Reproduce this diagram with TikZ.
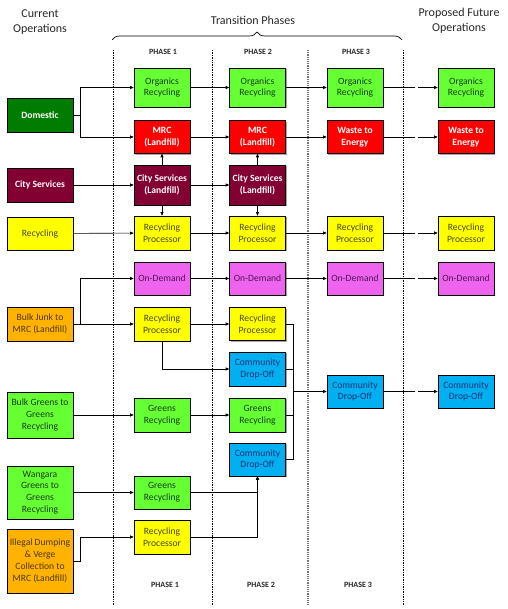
\documentclass[tikz,border=0pt]{standalone}
\usepackage{fontspec}
\setmainfont{Carlito}
\usetikzlibrary{arrows.meta,shadows,decorations.pathreplacing}
\definecolor{dgreen}{RGB}{0,125,0}
\definecolor{lgreen}{RGB}{102,255,51}
\definecolor{gtext}{RGB}{25,60,25}
\definecolor{maroon}{RGB}{130,0,50}
\definecolor{yfill}{RGB}{255,255,0}
\definecolor{ytext}{RGB}{70,70,0}
\definecolor{ofill}{RGB}{255,178,0}
\definecolor{otext}{RGB}{80,55,0}
\definecolor{mfill}{RGB}{238,100,238}
\definecolor{mtext}{RGB}{80,20,90}
\definecolor{bfill}{RGB}{0,176,240}
\definecolor{btext}{RGB}{25,50,120}
\definecolor{rfill}{RGB}{255,0,0}
\begin{document}
\begin{tikzpicture}[x=1pt,y=-1pt,
  box/.style={draw=black, line width=0.6pt, minimum width=56pt, inner sep=1pt, align=center,
    font=\fontsize{9.6}{11.8}\selectfont,
    drop shadow={shadow xshift=1.3pt, shadow yshift=-1.3pt, fill=black, opacity=0.35}},
  lbox/.style={box, minimum width=66pt},
  grn/.style={fill=lgreen, text=gtext},
  dgr/.style={fill=dgreen, text=white, font=\bfseries\fontsize{9.6}{11.8}\selectfont},
  red/.style={fill=rfill, text=white, font=\bfseries\fontsize{9.6}{11.8}\selectfont},
  mar/.style={fill=maroon, text=white, font=\bfseries\fontsize{9.6}{11.8}\selectfont},
  yel/.style={fill=yfill, text=ytext},
  ora/.style={fill=ofill, text=otext},
  mag/.style={fill=mfill, text=mtext},
  blu/.style={fill=bfill, text=btext},
  conn/.style={draw=black, line width=0.6pt},
  arr/.style={conn, -{Triangle[length=3.5pt,width=3pt]}},
  gapped/.style={dash pattern=on 32pt off 3pt on 300pt},
  phase/.style={font=\bfseries\fontsize{8}{9.5}\selectfont, text=black!85},
  head/.style={font=\fontsize{12}{15}\selectfont, align=center, text=black!85},
  vsep/.style={densely dotted, line width=0.7pt}
]
\useasboundingbox (0,0) rectangle (507,609);

% headers
\node[head] (hcur) at (40,22) {Current\\Operations};
\node[head] (htr) at (253,20) {Transition Phases};
\node[head] (hfut) at (459,21) {Proposed Future\\Operations};
\draw[line width=0.7pt, decorate, decoration={brace, amplitude=8pt}] (112,40) -- (402,40);

% separators
\draw[vsep] (113,50) -- (113,605);
\draw[vsep] (212,50) -- (212,605);
\draw[vsep, black!55, line width=1.2pt] (308,50) -- (308,605);
\draw[vsep] (403,50) -- (403,605);

% phase labels
\node[phase] (p1t) at (163,52) {PHASE 1};
\node[phase] (p2t) at (258,52) {PHASE 2};
\node[phase] (p3t) at (356,52) {PHASE 3};
\node[phase] (p1b) at (165,585) {PHASE 1};
\node[phase] (p2b) at (261,585) {PHASE 2};
\node[phase] (p3b) at (358,585) {PHASE 3};

% current operations
\node[lbox, dgr, minimum height=34pt] (dom) at (40,115) {Domestic};
\node[lbox, mar, minimum height=34pt] (cs0) at (40,185) {City Services};
\node[lbox, yel, minimum height=33pt] (rec0) at (40,233.5) {Recycling};
\node[lbox, ora, minimum height=34pt] (bj0) at (40,324) {Bulk Junk to\\MRC (Landfill)};
\node[lbox, grn, minimum height=46pt] (bg0) at (40,415) {Bulk Greens to\\Greens\\Recycling};
\node[lbox, grn, minimum height=53pt] (wg0) at (40,492.5) {Wangara\\Greens to\\Greens\\Recycling};
\node[lbox, ora, minimum height=64pt] (il0) at (40,561) {Illegal Dumping\\\& Verge\\Collection to\\MRC (Landfill)};

% phase 1
\node[box, grn, minimum height=39pt] (org1) at (162,87.5) {Organics\\Recycling};
\node[box, red, minimum height=33pt] (mrc1) at (162,137) {MRC\\(Landfill)};
\node[box, mar, minimum height=40pt] (cs1) at (162,185) {City Services\\(Landfill)};
\node[box, yel, minimum height=34pt] (rp1) at (162,233) {Recycling\\Processor};
\node[box, mag, minimum height=33pt] (od1) at (162,278.5) {On-Demand};
\node[box, yel, minimum height=34pt] (rpb1) at (162,324) {Recycling\\Processor};
\node[box, grn, minimum height=34pt] (gr1) at (162,415) {Greens\\Recycling};
\node[box, grn, minimum height=33pt] (gr1b) at (162,492.5) {Greens\\Recycling};
\node[box, yel, minimum height=34pt] (rpc1) at (162,537) {Recycling\\Processor};

% phase 2
\node[box, grn, minimum height=39pt] (org2) at (257.5,87.5) {Organics\\Recycling};
\node[box, red, minimum height=33pt] (mrc2) at (257.5,137) {MRC\\(Landfill)};
\node[box, mar, minimum height=40pt] (cs2) at (257.5,185) {City Services\\(Landfill)};
\node[box, yel, minimum height=34pt] (rp2) at (257.5,233) {Recycling\\Processor};
\node[box, mag, minimum height=33pt] (od2) at (257.5,278.5) {On-Demand};
\node[box, yel, minimum height=33pt] (rpb2) at (257.5,324) {Recycling\\Processor};
\node[box, blu, minimum height=34pt] (cdo2) at (257.5,369) {Community\\Drop-Off};
\node[box, grn, minimum height=34pt] (gr2) at (257.5,415) {Greens\\Recycling};
\node[box, blu, minimum height=33pt] (cdo2b) at (257.5,459.5) {Community\\Drop-Off};

% phase 3
\node[box, grn, minimum height=39pt] (org3) at (355,87.5) {Organics\\Recycling};
\node[box, red, minimum height=33pt] (wte3) at (355,137) {Waste to\\Energy};
\node[box, yel, minimum height=34pt] (rp3) at (355,233) {Recycling\\Processor};
\node[box, mag, minimum height=33pt] (od3) at (355,278.5) {On-Demand};
\node[box, blu, minimum height=33pt] (cdo3) at (355,391.5) {Community\\Drop-Off};

% future
\node[box, grn, minimum height=39pt] (org4) at (466,87.5) {Organics\\Recycling};
\node[box, red, minimum height=33pt] (wte4) at (466,137) {Waste to\\Energy};
\node[box, yel, minimum height=34pt] (rp4) at (466,233) {Recycling\\Processor};
\node[box, mag, minimum height=33pt] (od4) at (466,278.5) {On-Demand};
\node[box, blu, minimum height=33pt] (cdo4) at (466,391.5) {Community\\Drop-Off};

% connectors
\draw[arr] (dom.east) -- ++(7,0) |- (org1.west);
\draw[arr] (dom.east) -- ++(7,0) |- (mrc1.west);
\draw[arr] (org1) -- (org2);
\draw[arr] (org2) -- (org3);
\draw[arr, gapped] (org3) -- (org4);
\draw[arr] (mrc1) -- (mrc2);
\draw[arr] (mrc2) -- (wte3);
\draw[arr, gapped] (wte3) -- (wte4);
\draw[arr] (cs0) -- (cs1);
\draw[arr] (cs1) -- (cs2);
\draw[arr] (cs1) -- (mrc1);
\draw[arr] (cs1) -- (rp1);
\draw[arr] (cs2) -- (mrc2);
\draw[arr] (cs2) -- (rp2);
\draw[arr] (rec0) -- (rp1);
\draw[arr] (rp1) -- (rp2);
\draw[arr] (rp2) -- (rp3);
\draw[arr, gapped] (rp3) -- (rp4);
\draw[arr] (bj0.east) -- ++(7,0) |- (od1.west);
\draw[arr] (bj0) -- (rpb1);
\draw[arr] (od1) -- (od2);
\draw[arr] (od2) -- (od3);
\draw[arr, gapped] (od3) -- (od4);
\draw[arr] (rpb1) -- (rpb2);
\draw[arr] (rpb1.south) |- (cdo2.west);
\draw[arr] (bg0) -- (gr1);
\draw[arr] (gr1) -- (gr2);
\coordinate (mj) at (293,391.5);
\draw[conn] (rpb2.east) -| (mj);
\draw[conn] (cdo2.east) -| (mj);
\draw[conn] (gr2.east) -| (mj);
\draw[conn] (cdo2b.east) -| (mj);
\draw[arr] (mj) -- (cdo3.west);
\draw[arr, gapped] (cdo3) -- (cdo4);
\draw[arr] (wg0) -- (gr1b);
\draw[arr] (gr1b.east) -| (cdo2b.south);
\draw[arr] (rpc1.east) -| (cdo2b.south);
\draw[arr] (il0.east) -- ++(7,0) |- (rpc1.west);
\end{tikzpicture}
\end{document}
